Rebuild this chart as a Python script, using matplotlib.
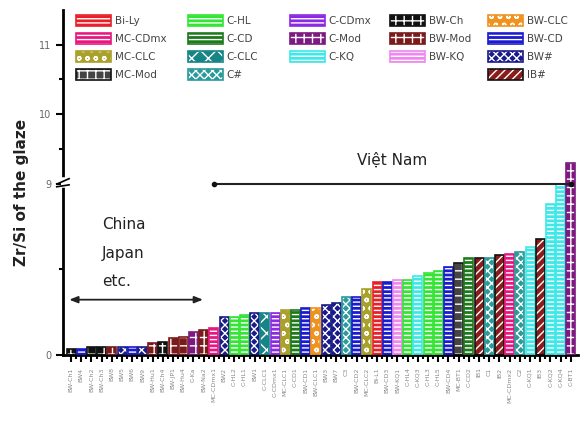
import numpy as np
import matplotlib.pyplot as plt
from matplotlib.patches import Patch

# ten mau (x labels), nhom (category of each bar), gia tri Zr/Si
nhan = ["BW-Ch1", "BW4", "BW-Ch2", "BW-Ch3", "BW8", "BW5", "BW6", "BW9",
        "BW-Hu1", "BW-Ch4", "BW-JP1", "BW-Hu4", "C-Ka", "BW-Na2", "MC-CDmx1",
        "BW2", "C-HL2", "C-HL1", "BW1", "C-CLC1", "C-CDmx1", "MC-CLC1", "C-CD1",
        "BW-CD1", "BW-CLC1", "BW3", "BW7", "C3", "BW-CD2", "MC-CLC2", "Bi-L1",
        "BW-CD3", "BW-KQ1", "C-HL4", "C-KQ3", "C-HL3", "C-HL5", "BW-CD4",
        "MC-BT1", "C-CD2", "IB1", "C1", "IB2", "MC-CDmx2", "C2", "C-KQ1", "IB3",
        "C-KQ2", "C-KQ4", "C-BT1"]
nhom = ["BW-Ch", "BW-CD", "BW-Ch", "BW-Ch", "BW-Mod", "BW#", "BW-CD", "BW#",
        "BW-Mod", "BW-Ch", "BW-Mod", "BW-Mod", "C-Mod", "BW-Mod", "MC-CDmx",
        "BW#", "C-HL", "C-HL", "BW#", "C-CLC", "C-CDmx", "MC-CLC", "C-CD",
        "BW-CD", "BW-CLC", "BW#", "BW#", "C#", "BW-CD", "MC-CLC", "Bi-Ly",
        "BW-CD", "BW-KQ", "C-HL", "C-KQ", "C-HL", "C-HL", "BW-CD", "MC-Mod",
        "C-CD", "IB#", "C#", "IB#", "MC-CDmx", "C#", "C-KQ", "IB#",
        "C-KQ", "C-KQ", "C-Mod"]
gia_tri = [0.32, 0.32, 0.43, 0.43, 0.40, 0.40, 0.40, 0.40, 0.60, 0.70,
           0.90, 0.93, 1.18, 1.30, 1.40, 2.00, 2.00, 2.10, 2.20, 2.20,
           2.20, 2.35, 2.35, 2.45, 2.45, 2.60, 2.75, 3.05, 3.05, 3.45,
           3.85, 3.85, 3.95, 3.95, 4.15, 4.30, 4.40, 4.60, 4.80, 5.10,
           5.10, 5.10, 5.25, 5.30, 5.40, 5.65, 6.10, 7.95, 8.95, 9.30]

# legend, one list per column
cot_chu_giai = [["Bi-Ly", "MC-CDmx", "MC-CLC", "MC-Mod"],
                ["C-HL", "C-CD", "C-CLC", "C#"],
                ["C-CDmx", "C-Mod", "C-KQ"],
                ["BW-Ch", "BW-Mod", "BW-KQ"],
                ["BW-CLC", "BW-CD", "BW#", "IB#"]]

mau = {"Bi-Ly": "#e8202a", "MC-CDmx": "#e8177f", "MC-CLC": "#aaa02a",
       "MC-Mod": "#444444", "C-HL": "#35e535", "C-CD": "#1c7a1c",
       "C-CLC": "#178585", "C#": "#2a9a9a", "C-CDmx": "#8a2be2",
       "C-Mod": "#7d1a80", "C-KQ": "#3ee8e8", "BW-Ch": "#111111",
       "BW-Mod": "#7a1a1a", "BW-KQ": "#ee88ee", "BW-CLC": "#f0921e",
       "BW-CD": "#1a1ad0", "BW#": "#1a1a8a", "IB#": "#8b1c1c"}
hoa_van = {"Bi-Ly": "----", "MC-CDmx": "----", "MC-CLC": "oo", "MC-Mod": "++",
           "C-HL": "----", "C-CD": "----", "C-CLC": "xx", "C#": "xxxx",
           "C-CDmx": "----", "C-Mod": "++", "C-KQ": "----", "BW-Ch": "++",
           "BW-Mod": "++", "BW-KQ": "----", "BW-CLC": "oo", "BW-CD": "----",
           "BW#": "xxxx", "IB#": "////"}
vien = {"IB#": "#111111", "MC-Mod": "#111111"}

K = 69 / 18.9


def xuoi(y):
    y = np.asarray(y, dtype=float)
    return np.where(y <= 9, y, 9 + (y - 9) * K)


def nguoc(y):
    y = np.asarray(y, dtype=float)
    return np.where(y <= 9, y, 9 + (y - 9) / K)


def ve_cot(ax):
    x = np.arange(len(gia_tri))
    for i, (g, v) in enumerate(zip(nhom, gia_tri)):
        ax.bar(x[i], v, width=0.88, color=mau[g], edgecolor="white",
               hatch=hoa_van[g], linewidth=0, zorder=2)
        ax.bar(x[i], v, width=0.88, fill=False,
               edgecolor=vien.get(g, mau[g]), linewidth=1.2, zorder=3)
    return x


def tay_cam(g):
    return (Patch(facecolor=mau[g], edgecolor="white", hatch=hoa_van[g],
                  linewidth=0),
            Patch(facecolor="none", edgecolor=vien.get(g, mau[g]),
                  linewidth=1.2))


def main():
    plt.rcParams["hatch.linewidth"] = 1.0
    fig = plt.figure(figsize=(5.88, 4.24), dpi=100)
    ax = fig.add_axes([0.107, 0.163, 0.876, 0.814])
    ax.set_yscale("function", functions=(xuoi, nguoc))

    x = ve_cot(ax)
    ax.set_xlim(-0.8, len(x) - 0.3)
    ax.set_ylim(0, 11.5)

    for s in ["top", "right"]:
        ax.spines[s].set_visible(False)
    for s in ["left", "bottom"]:
        ax.spines[s].set_linewidth(2)

    ax.set_yticks([0, 9, 10, 11])
    ax.set_yticks([4.5, 9.5, 10.5], minor=True)
    ax.tick_params(axis="y", which="major", length=5, width=1.5,
                   labelsize=7, labelcolor="#666666")
    ax.tick_params(axis="y", which="minor", length=3, width=1.5)
    ax.set_xticks(x)
    ax.set_xticklabels(nhan, rotation=90, fontsize=4.5, color="#888888")
    ax.set_xticks(x[:-1] + 0.5, minor=True)
    ax.tick_params(axis="x", which="major", length=5, width=1.5, pad=4)
    ax.tick_params(axis="x", which="minor", length=3, width=1.5)

    ax.set_ylabel("Zr/Si of the glaze", fontsize=11, fontweight="bold",
                  color="#222222")
    ax.yaxis.set_label_coords(-0.066, 0.47)

    # break marks on the y axis at 9
    tr = ax.get_yaxis_transform()
    ax.plot([-0.004, 0.004], [8.93, 8.93], transform=tr, color="white",
            lw=4, clip_on=False, zorder=5, solid_capstyle="butt")
    ax.plot([-0.004, 0.004], [9.05, 9.05], transform=tr, color="white",
            lw=4, clip_on=False, zorder=5, solid_capstyle="butt")
    for yy in (8.88, 9.02):
        ax.plot([-0.012, 0.012], [yy - 0.05, yy + 0.05], transform=tr,
                color="black", lw=1.2, clip_on=False, zorder=6)

    # China / Japan group
    ax.annotate("", xy=(-0.45, 2.9), xytext=(13.2, 2.9),
                arrowprops=dict(arrowstyle="<|-|>,head_length=0.5,head_width=0.2",
                                color="#222222", lw=1.3))
    ax.text(3.0, 6.6, "China", fontsize=11, color="#222222")
    ax.text(3.0, 5.1, "Japan", fontsize=11, color="#222222")
    ax.text(3.0, 3.6, "etc.", fontsize=11, color="#222222")

    # Viet Nam group
    ax.plot([14.0, x[-1]], [9, 9], color="#222222", lw=1.5, zorder=4)
    ax.plot([14.0, x[-1]], [9, 9], "o", color="#111111", ms=3, zorder=4)
    ax.text(31.5, 9.27, "Việt Nam", fontsize=11, color="#222222",
            ha="center")

    x_cot = [76, 188, 290, 390, 488]
    for x0, cot in zip(x_cot, cot_chu_giai):
        fig.legend([tay_cam(g) for g in cot], cot, loc="upper left",
                   bbox_to_anchor=(x0 / 588, 1 - 15 / 424), frameon=False,
                   fontsize=7.5, handlelength=3.4, handleheight=1.2,
                   handletextpad=0.3, labelspacing=0.7, borderpad=0,
                   borderaxespad=0, labelcolor="#444444")

    fig.savefig("out.png", dpi=100)


if __name__ == "__main__":
    main()
